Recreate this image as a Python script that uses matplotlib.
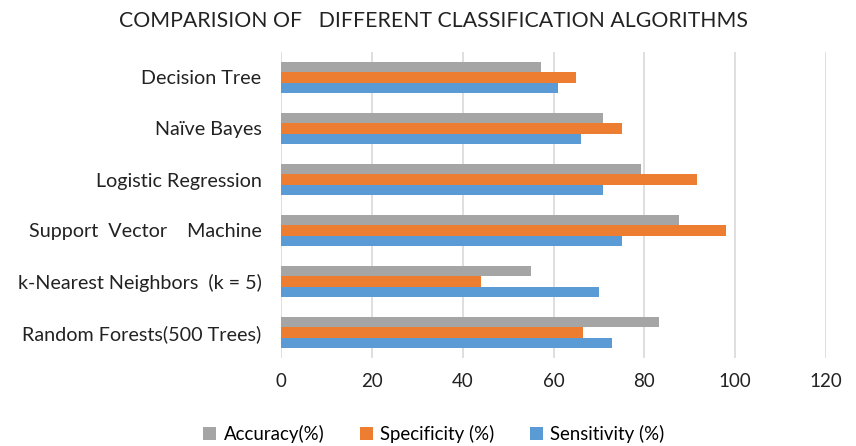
import numpy as np
import matplotlib
matplotlib.use("Agg")
import matplotlib.pyplot as plt

plt.rcParams['font.family'] = ['Lato', 'DejaVu Sans']

#------------------Data------------------
algorithms = ["Random Forests(500 Trees)", "k-Nearest Neighbors  (k = 5)",
              "Support  Vector    Machine", "Logistic Regression",
              "Na\u00efve Bayes", "Decision Tree"]
sensitivity = [72.8, 70, 75, 71, 66, 61]
specificity = [66.5, 44, 98, 91.5, 75, 65]
accuracy = [83.3, 55, 87.7, 79.3, 71, 57.2]
x_ticks = [0, 20, 40, 60, 80, 100, 120]

#------------------Figure------------------
fig = plt.figure(figsize=(8.56, 4.46), dpi=100)
ax = fig.add_axes([281/856, 1 - 358/446, (826-281)/856, (358-52)/446])

y = np.arange(len(algorithms))
h = 0.2
ax.barh(y - h, sensitivity, height=h, color="#5B9BD5", label="Sensitivity (%)", zorder=3)
ax.barh(y, specificity, height=h, color="#ED7D31", label="Specificity (%)", zorder=3)
ax.barh(y + h, accuracy, height=h, color="#A5A5A5", label="Accuracy(%)", zorder=3)

ax.set_xlim(0, 120)
ax.set_ylim(-0.5, len(algorithms) - 0.5)
ax.set_xticks(x_ticks)
ax.set_yticks(y)
ax.set_yticklabels(algorithms, fontsize=14.2, color="#222222")
ax.tick_params(axis='x', labelsize=13.5, colors="#222222", length=0, pad=11)
ax.tick_params(axis='y', length=0, pad=14)
ax.grid(axis='x', color="#D9D9D9", linewidth=1.2, zorder=0)
for s in ax.spines.values():
    s.set_visible(False)

fig.suptitle("COMPARISION OF   DIFFERENT CLASSIFICATION ALGORITHMS",
             fontsize=15.3, color="#222222", y=0.975, x=0.507)

handles, labels = ax.get_legend_handles_labels()
fig.legend(handles[::-1], labels[::-1], loc="center", bbox_to_anchor=(0.507, 0.026),
           ncol=3, frameon=False, fontsize=13.4, handlelength=0.7, handleheight=0.7,
           columnspacing=1.9, handletextpad=0.4)

fig.savefig("out.png", dpi=100)
